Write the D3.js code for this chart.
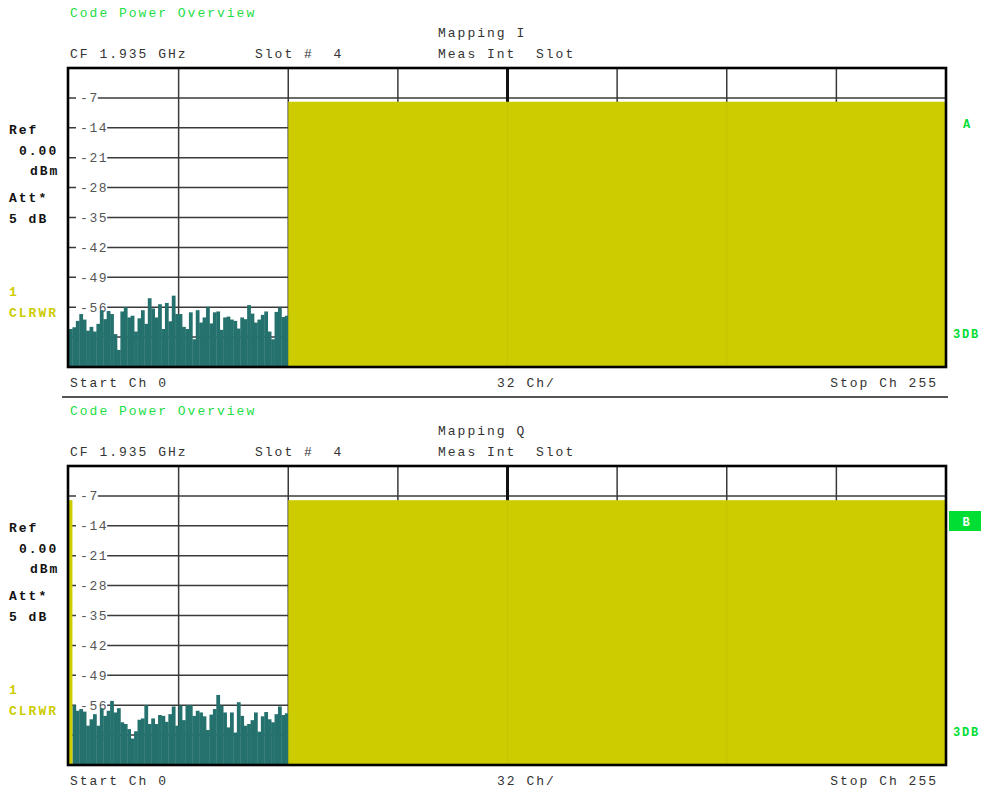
<!DOCTYPE html>
<html><head><meta charset="utf-8">
<script src="https://cdn.jsdelivr.net/npm/d3@7"></script>
<style>
html,body{margin:0;padding:0;background:#fff;}
svg{display:block;}
text{font-family:'Liberation Mono','Courier New',monospace;}
</style></head>
<body>
<svg id="chart" width="987" height="789"></svg>
<script>
// ---------- data ----------
const yTicks = [-7, -14, -21, -28, -35, -42, -49, -56, -63];
const xGridChannels = [0, 32, 64, 96, 128, 160, 192, 224, 256];
// Mapping I: inactive code channels 0..63 (dB)
const inactiveI = [-61.1,-60.7,-59.2,-57.6,-58.9,-61.5,-60.6,-61.7,-59.9,-56.7,
  -58.8,-56.9,-57.6,-62.3,-66.0,-57.0,-56.0,-58.4,-58.0,-61.7,
  -58.6,-56.7,-59.9,-53.9,-56.3,-58.4,-55.3,-61.1,-55.0,-59.3,
  -53.3,-57.6,-57.6,-60.6,-61.1,-57.2,-63.5,-56.7,-59.6,-58.4,
  -55.9,-59.8,-57.2,-57.0,-61.3,-58.4,-58.2,-58.9,-59.2,-61.0,
  -58.4,-58.8,-55.5,-57.5,-59.6,-58.9,-57.8,-57.0,-61.7,-63.5,
  -57.1,-56.1,-58.3,-58.0];
const inactiveStartI = 0;
// active code channel blocks [first, last, level dB]
const activeI = [[64, 255, -7.9]];
// Mapping Q: inactive code channels 1..63 (dB)
const inactiveQ = [-56.0,-57.3,-56.9,-57.5,-60.8,-59.3,-58.1,-60.8,-56.7,-58.5,
  -57.3,-55.0,-57.7,-56.7,-60.0,-60.4,-61.6,-63.8,-62.1,-59.4,
  -59.1,-56.0,-60.4,-59.1,-60.4,-58.3,-58.5,-59.9,-58.1,-56.3,
  -60.8,-56.1,-59.5,-56.0,-56.0,-58.5,-57.3,-57.7,-58.6,-61.8,
  -58.2,-56.9,-53.6,-56.1,-57.7,-61.2,-57.7,-62.4,-55.3,-58.5,
  -60.8,-60.4,-59.5,-57.7,-62.2,-58.6,-57.6,-59.3,-60.0,-58.1,
  -56.3,-58.3,-57.9];
const inactiveStartQ = 1;
const activeQ = [[0, 0, -8.0], [64, 255, -8.0]];

const panels = [
  {offset: 0, mapping: "Mapping I", inactive: inactiveI, start: inactiveStartI, active: activeI, marker: "A"},
  {offset: 398, mapping: "Mapping Q", inactive: inactiveQ, start: inactiveStartQ, active: activeQ, marker: "B"}
];

// ---------- drawing ----------
const svg = d3.select("#chart");
const TEAL = "#24716d", YEL = "#cccc00", GRN = "#22dd44", BRT = "#00dd33";
const x = d3.scaleLinear().domain([0, 256]).range([69, 946]);

panels.forEach(p => {
  const o = p.offset;
  const y = d3.scaleLinear().domain([-70, 0]).range([367 + o, 68 + o]);
  const g = svg.append("g");
  const T = (tx, ty, s, opt) => {
    const t = g.append("text").attr("x", tx).attr("y", ty).text(s)
      .attr("font-size", opt.size || 13).attr("letter-spacing", opt.ls != null ? opt.ls : 2)
      .attr("fill", opt.fill || "#333").attr("font-weight", opt.bold ? "bold" : "normal")
      .style("white-space", "pre");
    if (opt.anchor) t.attr("text-anchor", opt.anchor);
    return t;
  };
  // header
  T(70, 16.5 + o, "Code Power Overview", {fill: GRN});
  T(438, 37 + o, p.mapping, {});
  T(70, 58 + o, "CF 1.935 GHz", {});
  T(255, 58 + o, "Slot #  4", {});
  T(438, 58 + o, "Meas Int  Slot", {});
  // left info
  T(9, 134 + o, "Ref", {bold: true, fill: "#111"});
  T(19, 155 + o, "0.00", {bold: true, fill: "#111"});
  T(30, 175 + o, "dBm", {bold: true, fill: "#111"});
  T(9, 202 + o, "Att*", {bold: true, fill: "#111"});
  T(9, 223 + o, "5 dB", {bold: true, fill: "#111"});
  T(9, 296 + o, "1", {bold: true, fill: YEL});
  T(9, 317 + o, "CLRWR", {bold: true, fill: YEL});

  // horizontal grid
  g.append("g").selectAll("line").data(yTicks).join("line")
    .attr("x1", x(0)).attr("x2", x(256))
    .attr("y1", d => y(d)).attr("y2", d => y(d))
    .attr("stroke", "#3a3a3a").attr("stroke-width", 1.5);
  // vertical grid
  g.append("g").selectAll("line").data(xGridChannels.slice(1, -1)).join("line")
    .attr("x1", d => x(d)).attr("x2", d => x(d))
    .attr("y1", y(0)).attr("y2", y(-70))
    .attr("stroke", d => d === 128 ? "#111" : "#3a3a3a")
    .attr("stroke-width", d => d === 128 ? 3 : 1.5);
  // tick labels with white background
  const lab = g.append("g").selectAll("g").data(yTicks).join("g");
  lab.append("rect").attr("x", 76).attr("y", d => y(d) - 6)
    .attr("width", d => String(d).length * 9.4 + 3).attr("height", 12).attr("fill", "#fff");
  lab.append("text").attr("x", 80).attr("y", d => y(d) + 4.5).text(d => d)
    .attr("font-size", 13).attr("letter-spacing", 1.6).attr("fill", "#555");

  // bars: inactive channels
  const w = x(1) - x(0);
  g.append("g").selectAll("rect").data(p.inactive).join("rect")
    .attr("x", (d, i) => x(p.start + i)).attr("width", w + 0.35)
    .attr("y", d => y(d)).attr("height", d => y(-70) - y(d))
    .attr("fill", TEAL);
  // bars: active channel blocks
  g.append("g").selectAll("rect").data(p.active).join("rect")
    .attr("x", d => x(d[0])).attr("width", d => x(d[1] + 1) - x(d[0]))
    .attr("y", d => y(d[2])).attr("height", d => y(-70) - y(d[2]))
    .attr("fill", YEL);
  // faint seams of grid through active blocks
  g.append("g").selectAll("line").data([128, 192]).join("line")
    .attr("x1", d => x(d)).attr("x2", d => x(d))
    .attr("y1", y(-7.9)).attr("y2", y(-70))
    .attr("stroke", "#b8b800").attr("stroke-width", 1).attr("opacity", 0.35);

  // frame
  g.append("rect").attr("x", x(0) - 1).attr("y", y(0)).attr("width", x(256) - x(0) + 1)
    .attr("height", y(-70) - y(0)).attr("fill", "none").attr("stroke", "#000").attr("stroke-width", 2.6);

  // bottom axis text
  T(70, 387 + o, "Start Ch 0", {});
  T(497, 387 + o, "32 Ch/", {});
  T(938, 387 + o, "Stop Ch 255", {anchor: "end"});

  // right markers
  if (p.marker === "A") {
    T(963, 127.5 + o, "A", {bold: true, fill: BRT, size: 12});
  } else {
    g.append("rect").attr("x", 949).attr("y", 511 + o - 398).attr("width", 32).attr("height", 20).attr("fill", BRT);
    T(966, 526 + o - 398, "B", {bold: true, fill: "#fff", size: 12, anchor: "middle", ls: 0});
  }
  T(953, 338 + o, "3DB", {bold: true, fill: BRT, size: 12, ls: 1.8});
});

// separator between panels
svg.append("line").attr("x1", 62).attr("x2", 948).attr("y1", 397).attr("y2", 397)
  .attr("stroke", "#555").attr("stroke-width", 2);
</script>
</body></html>
